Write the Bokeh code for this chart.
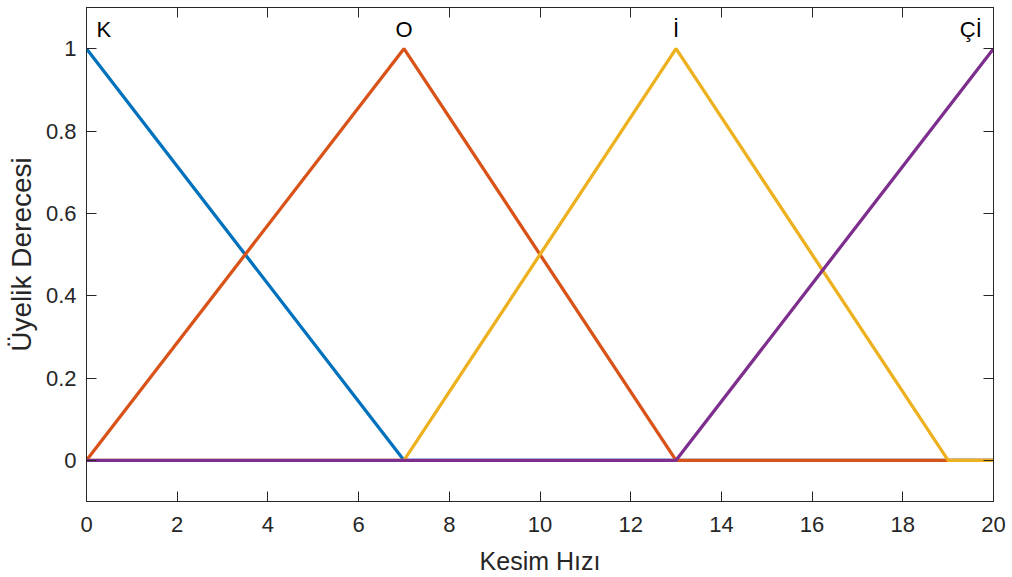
from bokeh.plotting import figure
from bokeh.models import LinearAxis, FixedTicker, CustomJSTickFormatter, Range1d, ColumnDataSource
from bokeh.core.properties import value
from bokeh.embed import file_html
from bokeh.resources import INLINE

# Membership functions of "Kesim Hızı" (breakpoints and degrees)
k_x = [0, 7, 20]
k_y = [1, 0, 0]
o_x = [0, 7, 13, 20]
o_y = [0, 1, 0, 0]
i_x = [0, 7, 13, 19, 20]
i_y = [0, 0, 1, 0, 0]
ci_x = [0, 13, 20]
ci_y = [0, 0, 1]

set_names = ["K", "O", "İ", "Çİ"]
colors = ["#0072BD", "#D95319", "#EDB120", "#7E2F8E"]

x_ticks = [0, 2, 4, 6, 8, 10, 12, 14, 16, 18, 20]
y_ticks = [0, 0.2, 0.4, 0.6, 0.8, 1]

FONT = "Liberation Sans"
DARK = "#262626"

p = figure(width=1012, height=577, output_backend="svg", toolbar_location=None,
           x_range=Range1d(0, 20), y_range=Range1d(-0.1, 1.1),
           min_border_left=86, min_border_right=19, min_border_top=7, min_border_bottom=76)
p.background_fill_color = "white"
p.border_fill_color = "white"
p.outline_line_color = DARK
p.outline_line_width = 1
p.xgrid.visible = False
p.ygrid.visible = False

for xs, ys, c in zip([k_x, o_x, i_x, ci_x], [k_y, o_y, i_y, ci_y], colors):
    p.line(xs, ys, line_color=c, line_width=3.3)

# Set names above each peak
lbl = ColumnDataSource(dict(x=[0.38, 7, 13, 19.5], y=[1.046] * 4, t=set_names))
p.text(x="x", y="y", text="t", source=lbl, text_align="center", text_baseline="alphabetic",
       text_font=value(FONT), text_font_size="22px", text_color="black")

fmt = CustomJSTickFormatter(code="return String(Math.round(tick * 10) / 10);")
blank = CustomJSTickFormatter(code="return '';")

def style_axis(ax):
    ax.major_tick_in = 10
    ax.major_tick_out = 0
    ax.minor_tick_line_color = None
    ax.axis_line_color = DARK
    ax.major_tick_line_color = DARK
    ax.major_label_text_font = FONT
    ax.major_label_text_color = DARK
    ax.major_label_text_font_size = "22px"
    ax.axis_label_text_font = FONT
    ax.axis_label_text_font_style = "normal"
    ax.axis_label_text_color = DARK
    ax.axis_label_text_font_size = "25px"

xa = p.xaxis[0]
xa.ticker = FixedTicker(ticks=x_ticks)
xa.axis_label = "Kesim Hızı"
style_axis(xa)
xa.major_label_standoff = 15
xa.axis_label_standoff = 12

ya = p.yaxis[0]
ya.ticker = FixedTicker(ticks=y_ticks)
ya.formatter = fmt
ya.axis_label = "Üyelik Derecesi"
style_axis(ya)
ya.axis_label_text_font_size = "28px"
ya.major_label_standoff = 10
ya.axis_label_standoff = 6

# Box edges with inward ticks on top and right
top = LinearAxis(ticker=FixedTicker(ticks=x_ticks), formatter=blank)
style_axis(top)
top.major_label_text_font_size = "1px"
top.major_label_standoff = 0
p.add_layout(top, "above")

right = LinearAxis(ticker=FixedTicker(ticks=y_ticks), formatter=blank)
style_axis(right)
right.major_label_text_font_size = "1px"
right.major_label_standoff = 0
p.add_layout(right, "right")

open("out.html", "w").write(file_html(p, INLINE))
